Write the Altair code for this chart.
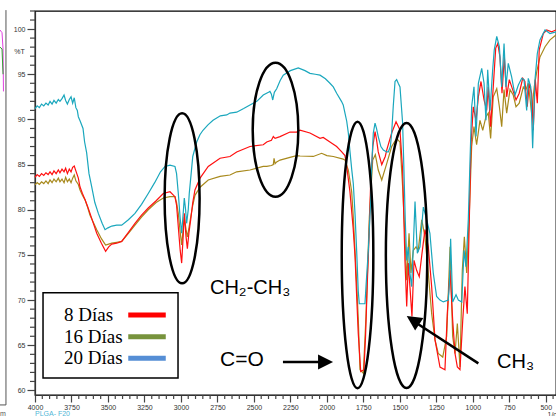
import altair as alt
import pandas as pd

# ---------------- data ----------------
wn_20 = [4000, 3985, 3970, 3955, 3940, 3925, 3910, 3897, 3883, 3870, 3855, 3840, 3829, 3815, 3801, 3790, 3778, 3765,
         3753, 3742, 3731, 3720, 3710, 3703, 3690, 3671, 3660, 3646, 3630, 3612, 3590, 3566, 3540, 3520, 3500, 3474,
         3440, 3406, 3360, 3315, 3270, 3224, 3180, 3140, 3109, 3075, 3041, 3030, 3018, 3005, 2995, 2985, 2977, 2968,
         2961, 2950, 2943, 2930, 2919, 2892, 2870, 2849, 2815, 2780, 2730, 2686, 2664, 2618, 2570, 2527, 2480, 2436,
         2400, 2390, 2380, 2371, 2360, 2344, 2320, 2299, 2250, 2196, 2150, 2116, 2080, 2047, 2010, 1979, 1956, 1933,
         1900, 1888, 1876, 1864, 1853, 1842, 1830, 1819, 1807, 1796, 1785, 1778, 1765, 1750, 1739, 1732, 1716, 1700,
         1693, 1682, 1670, 1660, 1648, 1630, 1613, 1590, 1579, 1565, 1556, 1545, 1533, 1522, 1511, 1499, 1481, 1472,
         1463, 1453, 1442, 1431, 1419, 1410, 1396, 1380, 1362, 1339, 1316, 1294, 1271, 1248, 1225, 1202, 1168, 1160,
         1152, 1138, 1115, 1099, 1076, 1060, 1047, 1031, 1019, 1008, 992, 978, 962, 939, 923, 910, 898, 882, 864, 853,
         836, 818, 802, 786, 773, 757, 734, 711, 688, 665, 649, 631, 620, 603, 590, 574, 558, 540, 505, 471, 430]
t_20 = [91.2, 91.5, 91.3, 91.7, 91.5, 91.8, 91.6, 92.0, 91.7, 92.1, 91.8, 92.2, 92.0, 92.3, 92.7, 92.1, 91.7, 92.2,
        92.5, 91.8, 92.4, 91.3, 91.0, 90.3, 89.8, 89.0, 87.5, 86.3, 84.0, 82.6, 80.8, 79.6, 78.5, 77.8, 78.0, 78.2,
        78.3, 78.3, 78.9, 79.6, 80.6, 81.8, 83.0, 84.2, 84.8, 84.95, 84.8, 84.0, 81.8, 79.0, 77.4, 79.5, 81.3, 80.0,
        78.5, 80.0, 81.8, 84.0, 85.9, 87.5, 88.3, 88.8, 89.4, 89.9, 90.4, 90.5, 90.7, 90.8, 91.2, 91.6, 92.0, 92.7,
        93.0, 93.1, 92.8, 92.15, 93.0, 93.4, 94.3, 94.9, 95.4, 95.7, 95.4, 95.1, 95.0, 94.9, 94.5, 94.0, 93.6, 92.9,
        92.0, 91.6, 90.7, 89.8, 88.5, 86.5, 84.5, 82.9, 79.5, 75.5, 71.0, 69.6, 69.6, 69.6, 69.6, 71.5, 75.5, 81.0,
        84.8, 88.5, 89.6, 89.0, 88.1, 87.0, 86.6, 86.4, 86.4, 87.0, 88.5, 91.5, 94.2, 94.4, 94.0, 93.6, 89.6, 84.4,
        78.9, 74.4, 75.9, 73.0, 71.5, 75.0, 80.9, 75.2, 75.9, 80.3, 78.9, 77.4, 73.0, 70.4, 70.0, 69.8, 70.0, 72.0,
        76.8, 69.8, 70.6, 70.0, 69.8, 75.5, 73.7, 78.9, 85.5, 91.4, 93.6, 88.1, 94.0, 95.65, 94.0, 89.9, 95.5, 91.0,
        95.5, 97.7, 99.2, 98.05, 93.6, 98.4, 93.6, 96.2, 94.7, 92.7, 93.8, 94.55, 94.4, 91.0, 94.55, 93.6, 86.8, 94.4,
        97.3, 98.8, 99.9, 99.5, 99.7]

wn_8 = [4000, 3985, 3970, 3955, 3940, 3925, 3910, 3897, 3883, 3870, 3855, 3840, 3829, 3815, 3801, 3790, 3778, 3765,
        3753, 3742, 3731, 3720, 3703, 3692, 3675, 3657, 3640, 3623, 3600, 3577, 3545, 3516, 3495, 3474, 3440, 3406,
        3360, 3315, 3270, 3224, 3170, 3121, 3075, 3041, 3030, 3018, 3005, 2995, 2985, 2977, 2965, 2956, 2945, 2933,
        2919, 2904, 2869, 2813, 2732, 2664, 2618, 2527, 2436, 2412, 2380, 2367, 2355, 2321, 2253, 2207, 2184, 2116,
        2047, 2025, 1979, 1933, 1898, 1876, 1864, 1842, 1820, 1807, 1796, 1785, 1768, 1746, 1735, 1723, 1710, 1700,
        1685, 1670, 1660, 1648, 1624, 1600, 1590, 1556, 1526, 1504, 1499, 1481, 1465, 1453, 1442, 1431, 1417, 1403,
        1385, 1367, 1348, 1328, 1305, 1282, 1259, 1225, 1191, 1175, 1156, 1138, 1122, 1106, 1088, 1069, 1054, 1038,
        1024, 1013, 997, 978, 962, 944, 923, 905, 894, 878, 860, 843, 829, 814, 800, 784, 768, 750, 727, 704, 682,
        658, 643, 627, 613, 597, 586, 572, 558, 545, 517, 494, 460, 430]
t_8 = [83.6, 83.9, 83.7, 84.0, 83.8, 84.1, 83.9, 84.2, 83.9, 84.3, 84.0, 84.4, 84.1, 84.5, 84.2, 84.6, 84.0, 84.5,
       84.2, 84.7, 84.85, 84.3, 83.5, 82.55, 81.8, 81.1, 80.4, 79.6, 78.5, 77.4, 76.3, 75.4, 75.9, 76.2, 76.3, 76.5,
       77.5, 78.5, 79.4, 80.2, 81.0, 81.8, 82.0, 81.45, 80.5, 78.1, 75.5, 74.1, 77.0, 79.6, 77.0, 75.7, 77.5, 78.9,
       80.8, 82.2, 83.5, 84.8, 85.7, 85.9, 86.4, 87.0, 87.2, 87.5, 87.7, 88.1, 87.9, 88.1, 88.6, 88.6, 88.8, 88.5,
       87.9, 88.0, 87.5, 87.0, 86.4, 86.0, 84.8, 82.0, 78.0, 74.8, 70.5, 66.3, 62.1, 62.3, 66.0, 71.9, 77.5, 82.9,
       87.0, 88.65, 87.8, 86.4, 85.0, 85.9, 86.6, 88.5, 89.75, 89.0, 88.8, 84.4, 74.4, 69.3, 74.1, 71.5, 68.2, 74.4,
       73.3, 72.6, 75.2, 77.8, 75.9, 71.5, 65.6, 62.6, 62.3, 68.5, 73.3, 67.8, 64.1, 62.6, 62.3, 67.8, 71.5, 68.5,
       78.9, 87.0, 91.4, 89.9, 92.5, 94.2, 92.15, 91.0, 93.6, 89.2, 93.6, 97.9, 98.4, 96.9, 92.9, 96.9, 92.5, 94.4,
       93.3, 92.15, 92.9, 94.55, 94.2, 91.4, 94.0, 92.9, 88.8, 94.4, 91.8, 97.7, 99.5, 99.9, 99.7, 99.9]

wn_16 = [4000, 3985, 3970, 3955, 3940, 3925, 3910, 3897, 3883, 3870, 3855, 3840, 3829, 3815, 3801, 3790, 3778, 3765,
         3753, 3742, 3731, 3720, 3703, 3692, 3675, 3657, 3640, 3623, 3600, 3577, 3545, 3516, 3495, 3474, 3440, 3406,
         3360, 3315, 3270, 3224, 3170, 3121, 3075, 3041, 3030, 3018, 3005, 2995, 2985, 2977, 2965, 2956, 2945, 2933,
         2919, 2904, 2869, 2813, 2732, 2664, 2618, 2527, 2436, 2412, 2380, 2367, 2362, 2355, 2344, 2321, 2253, 2207,
         2184, 2093, 2036, 2000, 1956, 1888, 1876, 1853, 1830, 1819, 1796, 1785, 1773, 1750, 1732, 1709, 1686, 1668,
         1648, 1624, 1590, 1556, 1522, 1499, 1481, 1465, 1453, 1437, 1424, 1408, 1389, 1374, 1350, 1328, 1305, 1282,
         1259, 1237, 1206, 1179, 1156, 1138, 1122, 1106, 1088, 1072, 1058, 1042, 1024, 1008, 992, 974, 951, 932, 910,
         894, 878, 860, 836, 818, 802, 786, 768, 745, 723, 704, 682, 654, 636, 620, 597, 579, 562, 540, 505, 471, 430]
t_16 = [82.75, 83.0, 82.8, 83.1, 82.9, 83.2, 82.9, 83.3, 83.0, 83.4, 83.1, 83.5, 83.1, 83.4, 83.0, 83.6, 83.1, 83.4,
        83.0, 83.5, 83.85, 83.2, 82.8, 82.2, 81.6, 81.1, 80.3, 79.4, 78.6, 77.8, 76.8, 76.1, 76.2, 76.3, 76.4, 76.5,
        77.4, 78.3, 79.2, 80.0, 80.8, 81.3, 81.45, 81.45, 80.8, 79.6, 77.5, 76.1, 77.8, 79.2, 77.8, 77.0, 78.0, 79.2,
        80.5, 81.6, 82.5, 83.3, 83.7, 83.85, 84.2, 84.4, 84.8, 84.8, 84.9, 85.0, 85.7, 85.1, 85.3, 85.5, 85.8, 86.0,
        85.95, 85.9, 86.25, 86.0, 85.9, 85.6, 85.5, 84.4, 82.0, 79.2, 71.9, 68.0, 62.3, 61.9, 68.2, 79.2, 85.5, 86.1,
        84.4, 83.3, 85.1, 87.0, 87.9, 87.5, 82.55, 77.0, 72.2, 77.4, 73.0, 75.5, 75.9, 75.5, 78.9, 77.0, 73.0, 68.5,
        65.6, 64.1, 63.7, 66.0, 75.9, 66.0, 64.1, 67.4, 62.6, 73.3, 77.0, 73.0, 79.6, 87.0, 89.2, 87.2, 89.9, 88.8,
        90.3, 90.7, 87.9, 92.5, 93.4, 91.4, 89.2, 93.3, 90.7, 93.3, 92.7, 91.4, 91.8, 93.6, 93.3, 94.0, 90.7, 93.6,
        95.3, 96.9, 98.05, 98.8, 99.35]

legend_labels = ["8 Días", "16 Días", "20 Días"]
legend_colors = ["#FF0000", "#77933C", "#558ED5"]
line_colors = {"8": "#FF1010", "16": "#A8891C", "20": "#1AA7BD"}

x_major = list(range(4000, 499, -250))
x_minor = [v for v in range(4000, 449, -50) if v % 250 != 0]
y_major = list(range(60, 101, 5))
y_minor = [v for v in range(60, 103) if v % 5 != 0]

FONT = "Liberation Sans"
TICK = "#444"

# ---------------- scales / axes ----------------
xs = alt.Scale(domain=[4000, 430], nice=False, zero=False)
ys = alt.Scale(domain=[59.5, 102], nice=False, zero=False)

x_axis = alt.Axis(
    values=x_major, format="d",
    labelFlush=False, labelOverlap=False, labelBound=False,
    tickSize=7, tickColor=TICK, tickWidth=1.2, domainColor="#333", domainWidth=1.2,
    labelFont=FONT, labelFontSize=7, labelColor="#333", labelPadding=1,
    grid=False,
    title="1/cm", titleFont=FONT, titleFontSize=7, titleFontWeight="normal", titleColor="#333",
    titleX=512, titleY=19, titleAlign="left", titleBaseline="middle",
)
y_axis = alt.Axis(
    values=y_major, format="d",
    labelOverlap=False, labelBound=False, labelFlush=False,
    tickSize=8, tickColor=TICK, tickWidth=1.2, domainColor="#333", domainWidth=1.2,
    labelFont=FONT, labelFontSize=7, labelColor="#333", labelPadding=2,
    grid=False,
    title="%T", titleFont=FONT, titleFontSize=7, titleFontWeight="normal", titleColor="#333",
    titleAngle=0, titleX=-16, titleY=40, titleAlign="center", titleBaseline="middle",
)


def X(f="wn"):
    return alt.X(f + ":Q", scale=xs, axis=x_axis)


def Y(f="t"):
    return alt.Y(f + ":Q", scale=ys, axis=y_axis)


# minor ticks drawn from the tick-value lists through the shared scales
xmin_df = pd.DataFrame({"wn": x_minor})
x_minor_ticks = alt.Chart(xmin_df).mark_rule(color=TICK, strokeWidth=1.2).encode(
    x=X(), y=alt.value(384), y2=alt.value(388))
ymin_df = pd.DataFrame({"t": y_minor})
y_minor_ticks = alt.Chart(ymin_df).mark_rule(color=TICK, strokeWidth=1.2).encode(
    y=Y(), x=alt.value(-5), x2=alt.value(0))

# ---------------- spectra ----------------
df8 = pd.DataFrame({"wn": wn_8, "t": t_8, "i": range(len(wn_8))})
df16 = pd.DataFrame({"wn": wn_16, "t": t_16, "i": range(len(wn_16))})
df20 = pd.DataFrame({"wn": wn_20, "t": t_20, "i": range(len(wn_20))})

l16 = alt.Chart(df16).mark_line(color=line_colors["16"], strokeWidth=1.2).encode(x=X(), y=Y(), order="i:Q")
l8 = alt.Chart(df8).mark_line(color=line_colors["8"], strokeWidth=1.2).encode(x=X(), y=Y(), order="i:Q")
l20 = alt.Chart(df20).mark_line(color=line_colors["20"], strokeWidth=1.2).encode(x=X(), y=Y(), order="i:Q")

# ---------------- ellipses ----------------
ell_wn = [2992, 2352, 1790, 1454]
ell_t = [81.27, 88.86, 75.0, 74.94]
ell_rx = [17.5, 22.8, 15.8, 20.7]
ell_ry = [85.0, 67.0, 133.3, 132.5]
k = 0.5523


def ell_path(rx, ry):
    a = rx / ry
    return (f"M 0 -1 C {k*a:.4f} -1 {a:.4f} {-k} {a:.4f} 0 C {a:.4f} {k} {k*a:.4f} 1 0 1 "
            f"C {-k*a:.4f} 1 {-a:.4f} {k} {-a:.4f} 0 C {-a:.4f} {-k} {-k*a:.4f} -1 0 -1 Z")


ell_df = pd.DataFrame({
    "wn": ell_wn, "t": ell_t,
    "shape": [ell_path(a, b) for a, b in zip(ell_rx, ell_ry)],
    "size": [4 * b * b for b in ell_ry],
})
ellipses = alt.Chart(ell_df).mark_point(filled=False, color="black", strokeWidth=2.5, opacity=1).encode(
    x=X(), y=Y(), shape=alt.Shape("shape:N", scale=None), size=alt.Size("size:Q", scale=None))

# ---------------- arrows ----------------
arrow_df = pd.DataFrame({
    "id": ["a", "a", "b", "b"],
    "wn": [2301, 1990, 962, 1400],
    "t": [63.15, 63.15, 63.0, 67.6],
})
arrow_lines = alt.Chart(arrow_df).mark_line(color="black", strokeWidth=2.5).encode(
    x=X(), y=Y(), detail="id:N")
head_df = pd.DataFrame({"wn": [2009, 1410], "t": [63.15, 67.79], "ang": [0, 213.4]})
heads = alt.Chart(head_df).mark_point(filled=True, color="black", opacity=1, size=225,
                                      shape="M -1 -1 L 1 0 L -1 1 Z").encode(
    x=X(), y=Y(), angle=alt.Angle("ang:Q", scale=None))

# ---------------- annotation text ----------------
ann_df = pd.DataFrame({
    "label": ["CH₂-CH₃", "C=O", "CH₃"],
    "wn": [2801, 2732, 834],
    "t": [71.3, 63.35, 63.2],
    "fs": [20, 21, 20],
})
ann = alt.Chart(ann_df).mark_text(font=FONT, align="left", baseline="middle", color="black").encode(
    x=X(), y=Y(), text="label:N", size=alt.Size("fs:Q", scale=None))

# ---------------- legend ----------------
box_df = pd.DataFrame({"wn": [3945], "wn2": [3020], "t": [70.82], "t2": [61.38]})
box = alt.Chart(box_df).mark_rect(fill="white", stroke="black", strokeWidth=1.5).encode(
    x=X(), x2="wn2:Q", y=Y(), y2="t2:Q")
leg_df = pd.DataFrame({
    "label": legend_labels, "col": legend_colors,
    "wn": [3801, 3801, 3801], "s1": [3361, 3361, 3361], "s2": [3104, 3104, 3104],
    "t": [68.35, 65.95, 63.56],
})
leg_text = alt.Chart(leg_df).mark_text(font="Liberation Serif", fontSize=19, align="left",
                                       baseline="middle", color="black").encode(
    x=X(), y=Y(), text="label:N")
leg_sw = alt.Chart(leg_df).mark_rule(strokeWidth=5).encode(
    x=X("s1"), x2="s2:Q", y=Y(), color=alt.Color("col:N", scale=None))

# ---------------- extra texts / fragments ----------------
misc_df = pd.DataFrame({"label": ["PLGA- F20", "m"], "wn": [4000, 4240], "t": [57.39, 57.39],
                        "col": ["#4FB6D6", "#555555"]})
misc = alt.Chart(misc_df).mark_text(font=FONT, fontSize=7, align="left", baseline="middle").encode(
    x=X(), y=Y(), text="label:N", color=alt.Color("col:N", scale=None))

frag_df = pd.DataFrame({
    "id": ["v", "v", "v", "m", "m", "m", "m", "g", "g", "g"],
    "wn": [4199, 4199, 4240, 4240, 4226, 4219, 4216, 4240, 4226, 4219],
    "t": [102.1, 58.4, 58.4, 99.9, 99.6, 97.8, 93.1, 98.0, 97.8, 95.0],
    "col": ["#555555"] * 3 + ["#E040E0"] * 4 + ["#30A030"] * 3,
    "o": list(range(10)),
})
frag = alt.Chart(frag_df).mark_line(strokeWidth=1).encode(
    x=X(), y=Y(), detail="id:N", order="o:Q", color=alt.Color("col:N", scale=None))

chart = alt.layer(
    l16, l8, l20, x_minor_ticks, y_minor_ticks, ellipses, arrow_lines, heads, ann, box, leg_sw, leg_text,
    misc, frag
).properties(
    width=521, height=384,
    autosize=alt.AutoSizeParams(type="none"),
    padding={"left": 35, "top": 11, "right": 0, "bottom": 21},
    background="white",
).configure_view(stroke="black", strokeWidth=1.3)

chart.save("out.html", embed_options={"renderer": "svg", "actions": False})
